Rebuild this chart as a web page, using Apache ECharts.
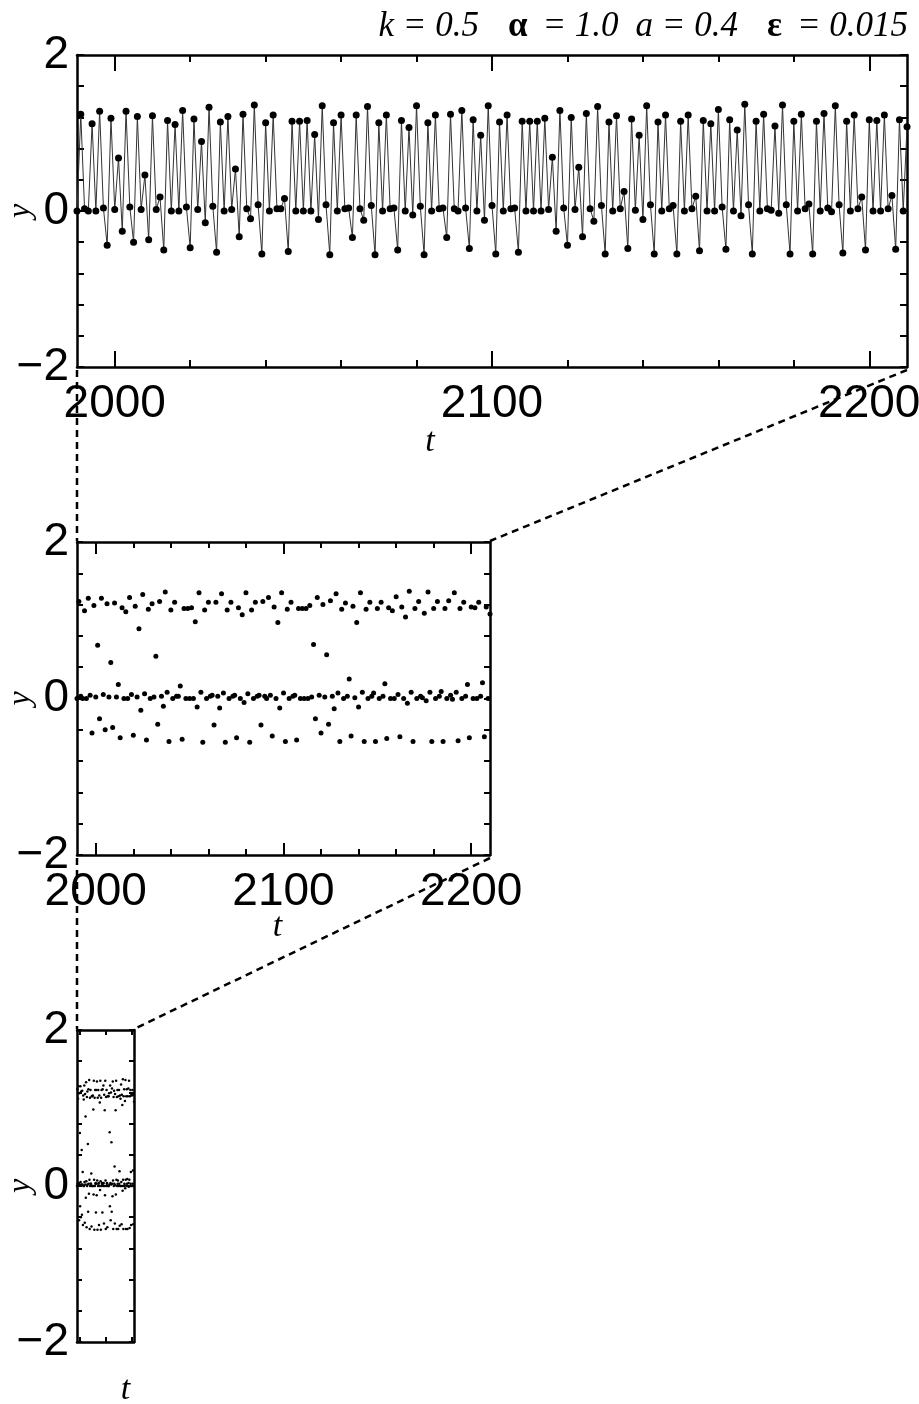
<!DOCTYPE html>
<html><head><meta charset="utf-8">
<script src="https://cdn.jsdelivr.net/npm/echarts@6/dist/echarts.min.js"></script>
<style>html,body{margin:0;padding:0;background:#fff}#c{width:919px;height:1404px}</style>
</head><body><div id="c"></div>
<script>
// ---------- data ----------
const tStart = 1990;            // time of first sample (one sample per unit of t)
const yValues = [
  0.00, 1.24, 0.03, 0.00, 1.12, 0.00, 1.28, 0.04,-0.44, 1.19,
  0.02, 0.68,-0.26, 1.28, 0.05,-0.40, 1.21, 0.02, 0.46,-0.37,
  1.22, 0.02, 0.18,-0.50, 1.16, 0.00, 1.11, 0.00, 1.29, 0.05,
 -0.47, 1.18, 0.02, 0.89,-0.15, 1.33, 0.06,-0.53, 1.14, 0.00,
  1.21, 0.02, 0.54,-0.33, 1.24, 0.03,-0.10, 1.36, 0.08,-0.55,
  1.13, 0.00, 1.23, 0.03, 0.03, 0.16,-0.52, 1.15, 0.00, 1.15,
  0.00, 1.16, 0.00, 0.98,-0.11, 1.35, 0.08,-0.56, 1.13, 0.00,
  1.23, 0.03, 0.04,-0.34, 1.23, 0.03,-0.12, 1.34, 0.07,-0.56,
  1.13, 0.00, 1.23, 0.03, 0.04,-0.50, 1.16, 0.00, 1.07,-0.05,
  1.35, 0.06,-0.56, 1.13, 0.00, 1.23, 0.03, 0.04,-0.34, 1.24,
  0.03, 0.00, 1.29, 0.04,-0.48, 1.17, 0.00, 0.97,-0.12, 1.35,
  0.07,-0.55, 1.14, 0.00, 1.23, 0.03, 0.04,-0.53, 1.15, 0.00,
  1.15, 0.00, 1.15, 0.00, 1.19, 0.02, 0.69,-0.26, 1.29, 0.04,
 -0.44, 1.20, 0.02, 0.56,-0.33, 1.25, 0.03,-0.13, 1.34, 0.07,
 -0.55, 1.14, 0.00, 1.22, 0.03, 0.25,-0.48, 1.18, 0.01, 0.97,
 -0.11, 1.35, 0.08,-0.55, 1.14, 0.00, 1.23, 0.03, 0.07,-0.55,
  1.15, 0.00, 1.23, 0.03, 0.19,-0.51, 1.16, 0.00, 1.12, 0.00,
  1.30, 0.05,-0.49, 1.17, 0.00, 1.04,-0.06, 1.37, 0.08,-0.55,
  1.15, 0.00, 1.24, 0.03, 0.01, 1.09,-0.03, 1.36, 0.08,-0.55,
  1.15, 0.00, 1.24, 0.03, 0.09,-0.55, 1.15, 0.00, 1.25, 0.04,
 -0.01, 1.35, 0.08,-0.54, 1.15, 0.00, 1.23, 0.03, 0.18,-0.50,
  1.17, 0.00, 1.16, 0.00, 1.23, 0.03, 0.20,-0.49, 1.17, 0.00,
  1.08
];
const xMin = 1990, xMax = 2210;
const xTickMinor = [2000,2020,2040,2060,2080,2100,2120,2140,2160,2180,2200];
const xTickMajor = [2000,2100,2200];
const xLabelValues = [2000,2100,2200];
const yTickValues = [-2,-1.6,-1.2,-0.8,-0.4,0,0.4,0.8,1.2,1.6,2];
const yLabelValues = [-2,0,2];
const paramParts = [['k = 0.5', 'i'], ['α', 'g'], ['= 1.0', 'i'], ['a = 0.4', 'i'], ['ε', 'g'], ['= 0.015', 'i']];
const xName = 't', yName = 'y';

// ---------- build ----------
const points = yValues.map((v, i) => [tStart + i, v]);
const SANS = "'Liberation Sans',Arial,sans-serif";
const SERIF = "'Liberation Serif','Times New Roman',serif";
const grids = [
  {left: 77, top: 55,   width: 830, height: 312, minor: 7, major: 16, xLabels: true,  xGap: 58, namePad: [0, 124, 0, 0], minorX: true},
  {left: 77, top: 542,  width: 413, height: 313, minor: 6, major: 12, xLabels: true,  xGap: 55, namePad: [0, 12, 0, 0],  minorX: true},
  {left: 77, top: 1030, width: 57,  height: 312, minor: 5, major: 5,  xLabels: false, xGap: 31, namePad: [0, 0, 0, 40],  minorX: false}
];
const line = {show: true, onZero: false, lineStyle: {color: '#000', width: 2.5}};
const tickStyle = {color: '#000', width: 2};
const xAxes = [], yAxes = [];
grids.forEach((g, gi) => {
  const base = {type: 'value', gridIndex: gi, min: xMin, max: xMax, splitLine: {show: false}};
  xAxes.push(Object.assign({}, base, {
    position: 'bottom', axisLine: line,
    axisTick: {show: true, inside: true, length: g.minor, lineStyle: tickStyle,
               customValues: g.minorX ? xTickMinor : xTickMajor},
    axisLabel: {show: g.xLabels, customValues: xLabelValues, margin: 14,
                fontFamily: SANS, fontSize: 46, color: '#000', formatter: v => String(v)},
    name: xName, nameLocation: 'middle', nameGap: g.xGap, nameMoveOverlap: false,
    nameTextStyle: {fontFamily: SERIF, fontStyle: 'italic', fontSize: 34, color: '#000', padding: g.namePad}
  }));
  xAxes.push(Object.assign({}, base, {
    position: 'bottom', axisLine: {show: false, onZero: false},
    axisTick: {show: true, inside: true, length: g.major, lineStyle: tickStyle, customValues: xTickMajor},
    axisLabel: {show: false}
  }));
  xAxes.push(Object.assign({}, base, {
    position: 'top', axisLine: line,
    axisTick: {show: true, inside: true, length: g.minor, lineStyle: tickStyle,
               customValues: g.minorX ? xTickMinor : xTickMajor},
    axisLabel: {show: false}
  }));
  xAxes.push(Object.assign({}, base, {
    position: 'top', axisLine: {show: false, onZero: false},
    axisTick: {show: true, inside: true, length: g.major, lineStyle: tickStyle, customValues: xTickMajor},
    axisLabel: {show: false}
  }));
  const ybase = {type: 'value', gridIndex: gi, min: -2, max: 2, splitLine: {show: false}};
  yAxes.push(Object.assign({}, ybase, {
    position: 'left', axisLine: line,
    axisTick: {show: true, inside: true, length: g.minor, lineStyle: tickStyle, customValues: yTickValues},
    axisLabel: {show: true, customValues: yLabelValues, margin: 8, fontFamily: SANS, fontSize: 46, color: '#000',
                formatter: v => (v < 0 ? '\u2212' + Math.abs(v) : String(v))},
    name: yName, nameLocation: 'middle', nameGap: 40, nameRotate: 90, nameMoveOverlap: false,
    nameTextStyle: {fontFamily: SERIF, fontStyle: 'italic', fontSize: 32, color: '#000'}
  }));
  yAxes.push(Object.assign({}, ybase, {
    position: 'right', axisLine: line,
    axisTick: {show: true, inside: true, length: g.minor, lineStyle: tickStyle, customValues: yTickValues},
    axisLabel: {show: false}
  }));
});

const titleText = paramParts.map(p => '{' + p[1] + '|' + p[0] + '}').join(' ');

const chart = echarts.init(document.getElementById('c'), null, {renderer: 'canvas'});
chart.setOption({
  animation: false,
  backgroundColor: '#fff',
  title: {text: titleText, right: 12, top: 4,
          textStyle: {rich: {
            i: {fontFamily: SERIF, fontStyle: 'italic', fontWeight: 'normal', fontSize: 35, color: '#000', padding: [0, 6, 0, 6]},
            g: {fontFamily: SERIF, fontStyle: 'normal', fontWeight: 'bold', fontSize: 35, color: '#000', padding: [0, 4, 0, 18]}
          }}},
  grid: grids.map(g => ({left: g.left, top: g.top, width: g.width, height: g.height,
                          containLabel: false, outerBoundsMode: 'none'})),
  xAxis: xAxes,
  yAxis: yAxes,
  series: [
    {type: 'line', xAxisIndex: 0, yAxisIndex: 0, data: points, symbol: 'circle', symbolSize: 7,
     showAllSymbol: true, clip: false,
     lineStyle: {color: '#333', width: 1}, itemStyle: {color: '#000', opacity: 1}},
    {type: 'scatter', xAxisIndex: 4, yAxisIndex: 2, data: points, symbolSize: 5, itemStyle: {color: '#000', opacity: 1}},
    {type: 'scatter', xAxisIndex: 8, yAxisIndex: 4, data: points, symbolSize: 2.5, itemStyle: {color: '#000', opacity: 1}}
  ]
});

// dashed zoom connectors between panels
function px(xi, yi, v) { return chart.convertToPixel({xAxisIndex: xi, yAxisIndex: yi}, v); }
const a0 = px(0, 0, [xMin, -2]), a1 = px(0, 0, [xMax, -2]);
const b0 = px(4, 2, [xMin, 2]),  b1 = px(4, 2, [xMax, 2]);
const b2 = px(4, 2, [xMin, -2]), b3 = px(4, 2, [xMax, -2]);
const c0 = px(8, 4, [xMin, 2]),  c1 = px(8, 4, [xMax, 2]);
const dash = {stroke: '#000', lineWidth: 2.5, lineDash: [7, 5]};
const seg = (p, q) => ({type: 'line', silent: true, shape: {x1: p[0], y1: p[1], x2: q[0], y2: q[1]}, style: dash});
chart.setOption({graphic: [
  seg([a0[0], a0[1] + 3], [b0[0], b0[1] - 1]),
  seg([a1[0], a1[1] + 3], [b1[0], b1[1] - 1]),
  seg([b2[0], b2[1] + 3], [c0[0], c0[1] - 1]),
  seg([b3[0], b3[1] + 3], [c1[0], c1[1] - 1])
]});
</script>
</body></html>
